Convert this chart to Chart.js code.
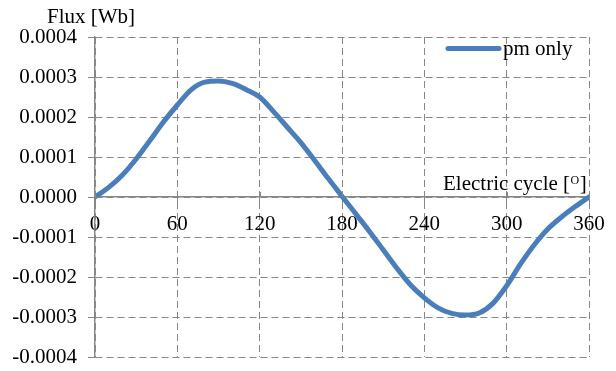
<!DOCTYPE html>
<html>
<head>
<meta charset="utf-8">
<script src="https://cdn.jsdelivr.net/npm/chart.js@4/dist/chart.umd.min.js"></script>
<style>
html,body{margin:0;padding:0;background:#fff;}
#wrap{width:616px;height:371px;}
</style>
</head>
<body>
<div id="wrap"><canvas id="c" width="616" height="371"></canvas></div>
<script>
// Data
const angles = [0,10,20,30,40,50,60,70,80,90,100,110,120,130,140,150,160,170,180,190,200,210,220,230,240,250,260,270,280,290,300,310,320,330,340,350,360];
const fluxPmOnly = [0,0.000024,0.000055,0.000095,0.000141,0.000188,0.000230,0.000268,0.000287,0.000290,0.000284,0.000269,0.000250,0.000214,0.000175,0.000136,0.000092,0.000046,0.000002,-0.000042,-0.000086,-0.000132,-0.000178,-0.000220,-0.000252,-0.000277,-0.000291,-0.000295,-0.000290,-0.000266,-0.000222,-0.000168,-0.000120,-0.000080,-0.000050,-0.000024,0];
const seriesLabel = 'pm only';
const yTitle = 'Flux [Wb]';
const xTitle = 'Electric cycle [';
const xTitleSup = 'O';
const xTitleEnd = ']';
const yMin = -0.0004, yMax = 0.0004, yStep = 0.0001;
const xMin = 0, xMax = 360, xStep = 60;

const FONT = '"Liberation Serif", "Times New Roman", serif';
const FS = 21;
const BLUE = '#4a7ebb';
const GRID = '#878787';

const extras = {
  id: 'extras',
  afterDraw(chart) {
    const ctx = chart.ctx;
    const ca = chart.chartArea;
    const xs = chart.scales.x, ys = chart.scales.y;
    ctx.save();
    ctx.strokeStyle = GRID; ctx.lineWidth = 1;
    ys.ticks.forEach(t => {
      const y = Math.round(ys.getPixelForValue(t.value)) + 0.5;
      ctx.beginPath(); ctx.moveTo(ca.left, y); ctx.lineTo(ca.left + 5, y); ctx.stroke();
    });
    const y0 = ys.getPixelForValue(0);
    xs.ticks.forEach(t => {
      const x = Math.round(xs.getPixelForValue(t.value)) + 0.5;
      ctx.beginPath(); ctx.moveTo(x, y0 - 5); ctx.lineTo(x, y0); ctx.stroke();
    });
    ctx.fillStyle = '#000';
    ctx.font = FS + 'px ' + FONT;
    ctx.textBaseline = 'middle';
    ctx.textAlign = 'left';
    ctx.fillText(yTitle, 47, 17);
    let x = 443;
    const ty = 184;
    ctx.fillText(xTitle, x, ty);
    x += ctx.measureText(xTitle).width;
    ctx.font = '12px ' + FONT;
    ctx.fillText(xTitleSup, x + 0.5, ty - 3.5);
    x += ctx.measureText(xTitleSup).width + 1;
    ctx.font = FS + 'px ' + FONT;
    ctx.fillText(xTitleEnd, x, ty);
    const ds = chart.data.datasets[0];
    ctx.strokeStyle = ds.borderColor;
    ctx.lineWidth = 5;
    ctx.lineCap = 'round';
    ctx.beginPath(); ctx.moveTo(448, 48.5); ctx.lineTo(499, 48.5); ctx.stroke();
    ctx.fillText(ds.label, 503, 49);
    ctx.restore();
  }
};

new Chart(document.getElementById('c'), {
  type: 'line',
  data: {
    labels: angles,
    datasets: [{
      label: seriesLabel,
      data: angles.map((a, i) => ({x: a, y: fluxPmOnly[i]})),
      borderColor: BLUE,
      backgroundColor: BLUE,
      borderWidth: 5,
      pointRadius: 0,
      cubicInterpolationMode: 'monotone',
      borderCapStyle: 'round',
      borderJoinStyle: 'round',
      fill: false
    }]
  },
  options: {
    responsive: false,
    animation: false,
    devicePixelRatio: 1,
    layout: {padding: {top: 37, right: 27, bottom: 14, left: 0}},
    plugins: {legend: {display: false}, tooltip: {enabled: false}, title: {display: false}},
    scales: {
      x: {
        type: 'linear',
        position: {y: 0},
        min: xMin, max: xMax,
        ticks: {stepSize: xStep, color: '#000', font: {family: FONT, size: FS}, padding: 9, maxRotation: 0, autoSkip: false},
        grid: {color: GRID, lineWidth: 1, drawTicks: true, tickLength: 6, tickColor: GRID, tickBorderDash: [], drawOnChartArea: true},
        border: {display: true, color: GRID, width: 1.5, dash: [7, 4]}
      },
      y: {
        min: yMin, max: yMax,
        afterFit(scale) { scale.width = 95; scale.paddingTop = 0; scale.paddingBottom = 0; },
        ticks: {stepSize: yStep, color: '#000', font: {family: FONT, size: FS}, padding: 11,
          callback: v => Number(v).toFixed(4)},
        grid: {color: GRID, lineWidth: 1, drawTicks: true, tickLength: 7, tickColor: GRID, tickBorderDash: []},
        border: {display: true, color: GRID, width: 1.5, dash: [7, 4]}
      }
    }
  },
  plugins: [extras]
});
</script>
</body>
</html>
